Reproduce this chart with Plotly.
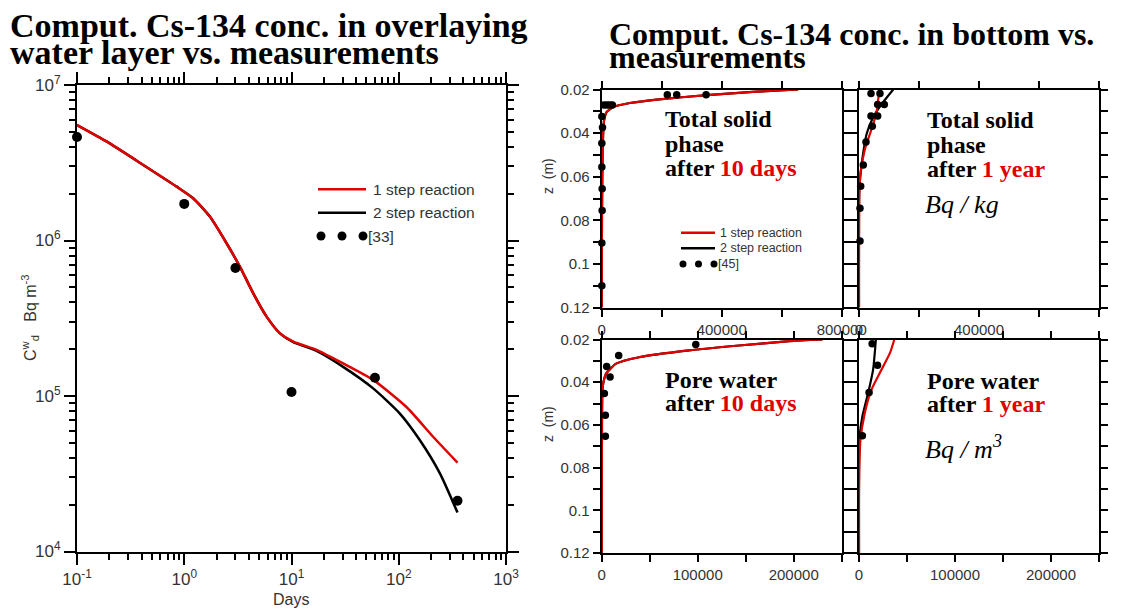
import plotly.graph_objects as go

# page is drawn with the browser's default 8px body margin
OFF = 8
W, H = 1131 - 2 * OFF, 616 - 2 * OFF
RED = "#e00000"

# ---------------- Left panel: overlaying water layer ----------------
days_1step = [0.1, 0.19, 0.415, 0.85, 1.21, 1.74, 2.48, 3.3, 4.4, 5.86, 7.8, 10.4, 17.1, 30.3, 57.7, 118, 209, 353]
conc_1step = [5.53e6, 4.32e6, 3.06e6, 2.22e6, 1.87e6, 1.42e6, 9.6e5, 6.79e5, 4.57e5, 3.24e5, 2.53e5, 2.24e5,
              1.98e5, 1.62e5, 1.27e5, 8.5e4, 5.47e4, 3.73e4]
days_2step = [0.1, 0.19, 0.415, 0.85, 1.21, 1.74, 2.48, 3.3, 4.4, 5.86, 7.8, 10.4, 17.1, 30.3, 57.7, 102, 157, 242, 353]
conc_2step = [5.53e6, 4.32e6, 3.06e6, 2.22e6, 1.87e6, 1.42e6, 9.6e5, 6.79e5, 4.57e5, 3.24e5, 2.53e5, 2.22e5,
              1.95e5, 1.54e5, 1.12e5, 7.74e4, 5.21e4, 3.18e4, 1.78e4]
days_obs = [0.1, 1, 3, 10, 60, 353]
conc_obs = [4.63e6, 1.72e6, 6.65e5, 1.06e5, 1.31e5, 2.12e4]

day_ticks = [0.1, 1, 10, 100, 1000]
day_labels = ["10<sup>-1</sup>", "10<sup>0</sup>", "10<sup>1</sup>", "10<sup>2</sup>", "10<sup>3</sup>"]
conc_ticks = [1e4, 1e5, 1e6, 1e7]
conc_labels = ["10<sup>4</sup>", "10<sup>5</sup>", "10<sup>6</sup>", "10<sup>7</sup>"]

# ---------------- Right panels: bottom sediment ----------------
# total solid phase after 10 days (Bq/kg)
z_sol10 = [0.02, 0.021, 0.0226, 0.0246, 0.0262, 0.028, 0.0303, 0.0344, 0.047, 0.077, 0.12]
sol10_1step = [655000, 516000, 350000, 183000, 94000, 38700, 16700, 7700, 3300, 1000, 0]
sol10_2step = [655000, 516000, 350000, 183000, 94000, 38700, 16700, 7700, 3300, 1000, 0]
z_sol10_obs = [0.0224, 0.0224, 0.0224, 0.0271, 0.0271, 0.0271, 0.0271, 0.0324, 0.0374, 0.0447, 0.0555,
               0.0655, 0.0755, 0.0904, 0.110]
sol10_obs = [218700, 250000, 348000, 7700, 17600, 26700, 35500, 500, 2700, 500, 500, 1500, 1500, 500, 500]

# total solid phase after 1 year (Bq/kg)
z_sol1y_1 = [0.02, 0.0242, 0.0303, 0.038, 0.0472, 0.058, 0.0688, 0.12]
sol1y_1step = [69900, 64300, 58900, 42300, 20000, 5600, 1100, 0]
z_sol1y_2 = [0.02, 0.0257, 0.0326, 0.0403, 0.0488, 0.058, 0.0657, 0.12]
sol1y_2step = [114200, 81000, 47600, 25600, 14300, 5600, 1000, 0]
z_sol1y_obs = [0.0218, 0.0218, 0.0269, 0.0269, 0.0321, 0.0321, 0.0369, 0.0441, 0.0546, 0.0644, 0.0745, 0.0895]
sol1y_obs = [40000, 69900, 62200, 84300, 40000, 62200, 44400, 23300, 14300, 5600, 3300, 3300]

# pore water after 10 days (Bq/m3)
z_pw10 = [0.02, 0.0208, 0.0228, 0.0251, 0.0283, 0.0313, 0.036, 0.0423, 0.058, 0.12]
pw10_1step = [230000, 195500, 143000, 91000, 39000, 15000, 4600, 1000, 300, 0]
pw10_2step = [230000, 195500, 143000, 91000, 39000, 15000, 4600, 1000, 300, 0]
z_pw10_obs = [0.0223, 0.0275, 0.0326, 0.0376, 0.0453, 0.0555, 0.0653]
pw10_obs = [98000, 17700, 5200, 8700, 2800, 3800, 3800]

# pore water after 1 year (Bq/m3)
z_pw1y_1 = [0.02, 0.0263, 0.0341, 0.0435, 0.0545, 0.067, 0.09, 0.12]
pw1y_1step = [36800, 32300, 23500, 13000, 6000, 1500, 0, 0]
z_pw1y_2 = [0.02, 0.0341, 0.0451, 0.056, 0.0655, 0.08, 0.12]
pw1y_2step = [17600, 14700, 9500, 3500, 700, 0, 0]
z_pw1y_obs = [0.022, 0.0321, 0.0448, 0.0651]
pw1y_obs = [13700, 19300, 10500, 3500]

z_ticks = [0.02, 0.04, 0.06, 0.08, 0.10, 0.12]
z_labels = ["0.02", "0.04", "0.06", "0.08", "0.1", "0.12"]
z_minor = [0.03, 0.05, 0.07, 0.09, 0.11]
sol_ticks = [0, 400000, 800000]
sol_labels = ["0", "400000", "800000"]
sol_minor = [200000, 600000]
pw_ticks = [0, 100000, 200000]
pw_labels = ["0", "100000", "200000"]
pw_minor = [50000, 150000, 250000]


def px(x):
    return (x - OFF) / W


def py(y):
    return 1 - (y - OFF) / H


fig = go.Figure()

# left panel traces
fig.add_trace(go.Scatter(x=days_2step, y=conc_2step, mode="lines", line=dict(color="black", width=2.5, shape="spline", smoothing=0.6),
                         xaxis="x", yaxis="y", showlegend=False))
fig.add_trace(go.Scatter(x=days_1step, y=conc_1step, mode="lines", line=dict(color=RED, width=2.5, shape="spline", smoothing=0.6),
                         xaxis="x", yaxis="y", showlegend=False))
fig.add_trace(go.Scatter(x=days_obs, y=conc_obs, mode="markers", marker=dict(color="black", size=10),
                         xaxis="x", yaxis="y", showlegend=False, cliponaxis=False))

panels = [
    ("x2", "y2", sol10_2step, z_sol10, sol10_1step, z_sol10, sol10_obs, z_sol10_obs),
    ("x3", "y3", sol1y_2step, z_sol1y_2, sol1y_1step, z_sol1y_1, sol1y_obs, z_sol1y_obs),
    ("x4", "y4", pw10_2step, z_pw10, pw10_1step, z_pw10, pw10_obs, z_pw10_obs),
    ("x5", "y5", pw1y_2step, z_pw1y_2, pw1y_1step, z_pw1y_1, pw1y_obs, z_pw1y_obs),
]
for xa, ya, x2, z2, x1, z1, xo, zo in panels:
    fig.add_trace(go.Scatter(x=x2, y=z2, mode="lines", line=dict(color="black", width=2.2, shape="spline", smoothing=0.5),
                             xaxis=xa, yaxis=ya, showlegend=False))
    fig.add_trace(go.Scatter(x=x1, y=z1, mode="lines", line=dict(color=RED, width=2.2, shape="spline", smoothing=0.5),
                             xaxis=xa, yaxis=ya, showlegend=False))
    fig.add_trace(go.Scatter(x=xo, y=zo, mode="markers", marker=dict(color="black", size=7.5),
                             xaxis=xa, yaxis=ya, showlegend=False, cliponaxis=False))

SANS = "Liberation Sans, Arial, sans-serif"
SERIF = "Liberation Serif, Times New Roman, serif"


def minor(vals, length=7):
    return dict(tickmode="array", tickvals=vals, ticks="outside", ticklen=length, tickcolor="black", tickwidth=1.5)


def base_axis(**kw):
    d = dict(showline=True, linecolor="black", linewidth=2, mirror="allticks", ticks="outside",
             tickcolor="black", tickwidth=1.5, ticklen=7, showgrid=False, zeroline=False, automargin=False,
             tickfont=dict(family=SANS, size=15, color="#333"), tickmode="array")
    d.update(kw)
    return d


minor_days = [m * 10 ** e for e in range(-1, 3) for m in range(2, 10)]
minor_conc = [m * 10 ** e for e in range(4, 7) for m in range(2, 10)]

left_x = (px(77), px(506))
left_y = (py(551.5), py(85))
col1 = (px(601.7), px(841.7))
col2 = (px(859), px(1099))
row1 = (py(307.5), py(89.5))
row2 = (py(553), py(339.5))

fig.update_layout(
    width=W, height=H, margin=dict(l=0, r=0, t=0, b=0, autoexpand=False),
    paper_bgcolor="white", plot_bgcolor="white",
    xaxis=base_axis(type="log", range=[-1, 3], domain=left_x, anchor="y", tickvals=day_ticks, ticktext=day_labels,
                    ticklen=11, tickfont=dict(family=SANS, size=17, color="#333"), minor=minor(minor_days, 6)),
    yaxis=base_axis(type="log", range=[4, 7], domain=left_y, anchor="x", tickvals=conc_ticks, ticktext=conc_labels,
                    ticklen=11, tickfont=dict(family=SANS, size=17, color="#333"), minor=minor(minor_conc, 6)),
    xaxis2=base_axis(range=[0, 800000], domain=col1, anchor="y2", tickvals=sol_ticks, ticktext=sol_labels, minor=minor(sol_minor)),
    yaxis2=base_axis(range=[0.12, 0.02], domain=row1, anchor="x2", tickvals=z_ticks, ticktext=z_labels, minor=minor(z_minor)),
    xaxis3=base_axis(range=[0, 800000], domain=col2, anchor="y3", tickvals=sol_ticks, ticktext=sol_labels, minor=minor(sol_minor)),
    yaxis3=base_axis(range=[0.12, 0.02], domain=row1, anchor="x3", tickvals=z_ticks, ticktext=z_labels, minor=minor(z_minor),
                     showticklabels=False),
    xaxis4=base_axis(range=[0, 250000], domain=col1, anchor="y4", tickvals=pw_ticks, ticktext=pw_labels, minor=minor(pw_minor)),
    yaxis4=base_axis(range=[0.12, 0.02], domain=row2, anchor="x4", tickvals=z_ticks, ticktext=z_labels, minor=minor(z_minor)),
    xaxis5=base_axis(range=[0, 250000], domain=col2, anchor="y5", tickvals=pw_ticks, ticktext=pw_labels, minor=minor(pw_minor)),
    yaxis5=base_axis(range=[0.12, 0.02], domain=row2, anchor="x5", tickvals=z_ticks, ticktext=z_labels, minor=minor(z_minor),
                     showticklabels=False),
)

ann = []


def text(x, y, s, size, family=SERIF, color="black", xanchor="left", angle=0):
    ann.append(dict(x=px(x), y=py(y), xref="paper", yref="paper", text=s, showarrow=False, xanchor=xanchor,
                    yanchor="middle", textangle=angle, font=dict(family=family, size=size, color=color)))


# titles
text(8, 25.5, "<b>Comput. Cs-134 conc. in overlaying</b>", 34)
text(8, 52.5, "<b>water layer vs. measurements</b>", 34)
text(607, 34, "<b>Comput. Cs-134 conc. in bottom vs.</b>", 32)
text(607, 57, "<b>measurements</b>", 32)

# panel labels
r = lambda s: "<span style='color:%s'>%s</span>" % (RED, s)
text(663, 119, "<b>Total solid</b>", 24)
text(663, 144, "<b>phase</b>", 24)
text(663, 168, "<b>after " + r("10 days") + "</b>", 24)
text(925, 120, "<b>Total solid</b>", 24)
text(925, 145, "<b>phase</b>", 24)
text(925, 169, "<b>after " + r("1 year") + "</b>", 24)
text(923, 204, "<i>Bq / kg</i>", 26)
text(663, 380, "<b>Pore water</b>", 24)
text(663, 403, "<b>after " + r("10 days") + "</b>", 24)
text(925, 381, "<b>Pore water</b>", 24)
text(925, 404, "<b>after " + r("1 year") + "</b>", 24)
text(923, 448, "<i>Bq / m<sup>3</sup></i>", 26)

# axis titles
text(291, 599, "Days", 16, family=SANS, color="#333", xanchor="center")
text(30, 318, "C<sup>w</sup><sub>d</sub>   Bq m<sup>-3</sup>", 16, family=SANS, color="#333", xanchor="center", angle=-90)
text(548, 176, "z  (m)", 14, family=SANS, color="#333", xanchor="center", angle=-90)
text(548, 424, "z  (m)", 14, family=SANS, color="#333", xanchor="center", angle=-90)

# legends (drawn as keys in paper space)
shapes = []


def key_line(x0, x1, y, color):
    shapes.append(dict(type="line", xref="paper", yref="paper", x0=px(x0), x1=px(x1), y0=py(y), y1=py(y),
                       line=dict(color=color, width=2.5)))


def key_dot(x, y, rad):
    shapes.append(dict(type="circle", xref="paper", yref="paper", xsizemode="pixel", ysizemode="pixel",
                       xanchor=px(x), yanchor=py(y), x0=-rad, x1=rad, y0=-rad, y1=rad,
                       fillcolor="black", line=dict(width=0)))


key_line(318, 366, 189.3, RED)
key_line(318, 366, 212.7, "black")
for xx in (321, 342, 363):
    key_dot(xx, 236, 4.5)
text(371, 189.3, "1 step reaction", 15.5, family=SANS, color="#333")
text(371, 212.7, "2 step reaction", 15.5, family=SANS, color="#333")
text(366, 236, "[33]", 15.5, family=SANS, color="#333")

key_line(681, 715, 232.7, RED)
key_line(681, 715, 248.3, "black")
for xx in (683, 698.5, 714):
    key_dot(xx, 264, 3.5)
text(718, 232.7, "1 step reaction", 12.5, family=SANS, color="#333")
text(718, 248.3, "2 step reaction", 12.5, family=SANS, color="#333")
text(716, 264, "[45]", 12.5, family=SANS, color="#333")

fig.update_layout(annotations=ann, shapes=shapes)

fig.write_html("out.html")
